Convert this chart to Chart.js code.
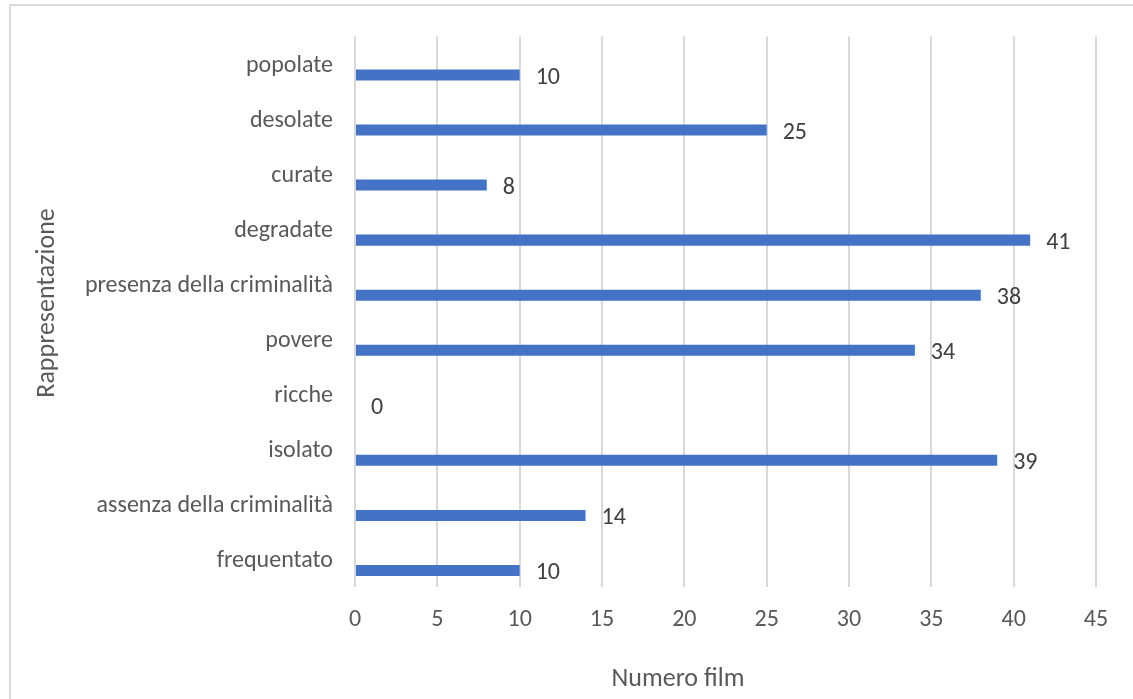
<!DOCTYPE html>
<html>
<head>
<meta charset="utf-8">
<script src="https://cdn.jsdelivr.net/npm/chart.js@4/dist/chart.umd.min.js"></script>
<style>
  html, body { margin: 0; padding: 0; background: #ffffff; }
  #wrap { width: 1133px; height: 699px; position: relative; }
</style>
</head>
<body>
<div id="wrap"><canvas id="c" width="1133" height="699"></canvas></div>
<script>
const categories = ["popolate", "desolate", "curate", "degradate", "presenza della criminalità", "povere", "ricche", "isolato", "assenza della criminalità", "frequentato"];
const filmCounts = [10, 25, 8, 41, 38, 34, 0, 39, 14, 10];
const emptySeries = [0, 0, 0, 0, 0, 0, 0, 0, 0, 0];
const xTicks = [0, 5, 10, 15, 20, 25, 30, 35, 40, 45];
const xTitle = "Numero film";
const yTitle = "Rappresentazione";

const FONT = "Calibri, Carlito, Lato, sans-serif";
const TEXT = "#595959";

const framePlugin = {
  id: "frame",
  beforeDraw(chart) {
    const ctx = chart.ctx;
    ctx.save();
    ctx.fillStyle = "#ffffff";
    ctx.fillRect(0, 0, chart.width, chart.height);
    ctx.strokeStyle = "#d9d9d9";
    ctx.lineWidth = 2;
    ctx.strokeRect(10, 5, 1300, 900);
    ctx.restore();
  },
  afterDraw(chart) {
    const ctx = chart.ctx;
    ctx.save();
    ctx.font = "26px " + FONT;
    ctx.fillStyle = TEXT;
    ctx.textAlign = "center";
    ctx.textBaseline = "middle";
    ctx.fillText(xTitle, 678, 679);
    ctx.translate(47, 303);
    ctx.rotate(-Math.PI / 2);
    ctx.fillText(yTitle, 0, 0);
    ctx.restore();
  }
};

const valueLabels = {
  id: "valueLabels",
  afterDatasetsDraw(chart) {
    const ctx = chart.ctx;
    const meta = chart.getDatasetMeta(1);
    ctx.save();
    ctx.font = "24px " + FONT;
    ctx.fillStyle = "#404040";
    ctx.textAlign = "left";
    ctx.textBaseline = "middle";
    meta.data.forEach((bar, i) => {
      const v = chart.data.datasets[1].data[i];
      ctx.fillText(String(v), bar.x + 16, bar.y + 3);
    });
    ctx.restore();
  }
};

new Chart(document.getElementById("c"), {
  type: "bar",
  data: {
    labels: categories,
    datasets: [
      { label: "", data: emptySeries, backgroundColor: "rgba(0,0,0,0)", borderWidth: 0 },
      { label: "Numero film", data: filmCounts, backgroundColor: "#4472C4", borderWidth: 0 }
    ]
  },
  options: {
    indexAxis: "y",
    responsive: false,
    animation: false,
    events: [],
    categoryPercentage: 0.8,
    barPercentage: 0.5,
    layout: { padding: { top: 35, right: 37, left: 0, bottom: 0 } },
    plugins: { legend: { display: false }, tooltip: { enabled: false } },
    scales: {
      x: {
        min: 0, max: 45,
        afterBuildTicks(scale) { scale.ticks = xTicks.map(v => ({ value: v })); },
        afterFit(scale) { scale.height = 112; },
        grid: { color: "#d9d9d9", lineWidth: 2, drawTicks: false },
        border: { display: false },
        ticks: { color: TEXT, font: { family: FONT, size: 24 }, padding: 19 },
        title: { display: false }
      },
      y: {
        afterFit(scale) { scale.width = 355; },
        grid: { display: false, drawTicks: false },
        border: { display: false },
        ticks: { color: TEXT, font: { family: FONT, size: 24 }, padding: 22, labelOffset: 2 },
        title: { display: false }
      }
    }
  },
  plugins: [framePlugin, valueLabels]
});
</script>
</body>
</html>
